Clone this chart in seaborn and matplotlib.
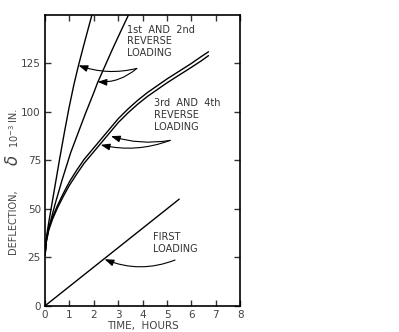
import numpy as np
import pandas as pd
import matplotlib.pyplot as plt
import seaborn as sns

# values (time in hours, deflection in 1e-3 in.)
time_first = [0, 5.5]
defl_first = [0, 55]

time_rev1 = [0, 0.05, 0.15, 0.3, 0.45, 0.6, 0.8, 0.98, 1.18, 1.37, 1.62, 1.92]
defl_rev1 = [26, 35, 43, 54, 65, 76, 90, 102, 114, 124, 136, 150]

time_rev2 = [0, 0.05, 0.15, 0.4, 0.7, 1.05, 1.35, 1.65, 2.0, 2.15, 2.45, 2.75, 3.1, 3.42]
defl_rev2 = [26, 33, 40, 52, 65, 79, 89, 99, 110, 115, 123.5, 132, 141.5, 150]

time_rev3 = [0, 0.05, 0.15, 0.3, 0.5, 0.75, 1.0, 1.3, 1.6, 1.9, 2.2, 2.6, 3.0,
             3.4, 3.8, 4.2, 4.6, 5.0, 5.5, 6.0, 6.4, 6.7]
defl_rev3 = [27, 34, 40, 45.5, 51.5, 58, 64, 70, 75.5, 80, 84.5, 90.5, 96.5,
             101.5, 106, 110, 113.5, 117, 121, 125, 128.5, 131]
defl_rev4 = [26, 33, 39, 44.5, 50.3, 56.5, 62.2, 68, 73.5, 78, 82.5, 88.5, 94.5,
             99.5, 104, 108, 111.5, 115, 119, 123, 126.3, 129]

x_ticks = [0, 1, 2, 3, 4, 5, 6, 7, 8]
y_ticks = [0, 25, 50, 75, 100, 125]

sns.set_style('ticks')
plt.rcParams['font.family'] = ['DejaVu Sans']

curves = pd.concat([
    pd.DataFrame({'t': time_first, 'd': defl_first, 'run': 'first'}),
    pd.DataFrame({'t': time_rev1, 'd': defl_rev1, 'run': 'rev1'}),
    pd.DataFrame({'t': time_rev2, 'd': defl_rev2, 'run': 'rev2'}),
    pd.DataFrame({'t': time_rev3, 'd': defl_rev3, 'run': 'rev3'}),
    pd.DataFrame({'t': time_rev3, 'd': defl_rev4, 'run': 'rev4'}),
])

fig = plt.figure(figsize=(3.99, 3.32), dpi=100)
ax = fig.add_axes([0.113, 0.079, 0.489, 0.876])

sns.lineplot(data=curves, x='t', y='d', units='run', estimator=None, sort=False,
             color='black', linewidth=1.0, ax=ax, legend=False)

ax.set_xlim(0, 8)
ax.set_ylim(0, 150)
ax.set_xticks(x_ticks)
ax.set_yticks(y_ticks)
ax.tick_params(direction='in', top=True, right=True, length=4, width=1,
               labelsize=7.5, pad=3, colors='#333333')
ax.tick_params(labelcolor='#444444')
for s in ax.spines.values():
    s.set_linewidth(1.2)
    s.set_color('black')

ax.set_xlabel('TIME,  HOURS', fontsize=7.5, color='#444444', labelpad=1)
ax.set_ylabel('')

# y label pieces, stacked like the hand lettering
lab = dict(rotation=90, ha='center', va='center', color='#444444')
fig.text(0.033, 0.331, 'DEFLECTION,', fontsize=7, **lab)
fig.text(0.033, 0.518, '$\\delta$', fontsize=12, **lab)
fig.text(0.035, 0.590, '$10^{-3}$', fontsize=7, **lab)
fig.text(0.033, 0.657, 'IN.', fontsize=7, **lab)

txt = dict(fontsize=7, color='#333333', va='top', ha='left', linespacing=1.2)
arw = dict(arrowstyle='-|>,head_length=0.55,head_width=0.2', color='black', lw=0.8,
           shrinkA=0, shrinkB=0)

ax.text(3.35, 145, '1st  AND  2nd\nREVERSE\nLOADING', **txt)
ax.annotate('', xy=(1.37, 124), xytext=(3.76, 122.4),
            arrowprops=dict(connectionstyle='arc3,rad=-0.15', **arw))
ax.annotate('', xy=(2.15, 115.5), xytext=(3.76, 122.4),
            arrowprops=dict(connectionstyle='arc3,rad=-0.2', **arw))

ax.text(4.45, 107, '3rd  AND  4th\nREVERSE\nLOADING', **txt)
ax.annotate('', xy=(2.7, 87.5), xytext=(5.13, 85.3),
            arrowprops=dict(connectionstyle='arc3,rad=-0.12', **arw))
ax.annotate('', xy=(2.28, 83), xytext=(5.13, 85.3),
            arrowprops=dict(connectionstyle='arc3,rad=-0.15', **arw))

ax.text(4.42, 38, 'FIRST\nLOADING', **txt)
ax.annotate('', xy=(2.44, 24), xytext=(5.33, 23.6),
            arrowprops=dict(connectionstyle='arc3,rad=-0.2', **arw))

fig.savefig('out.png', dpi=100)
